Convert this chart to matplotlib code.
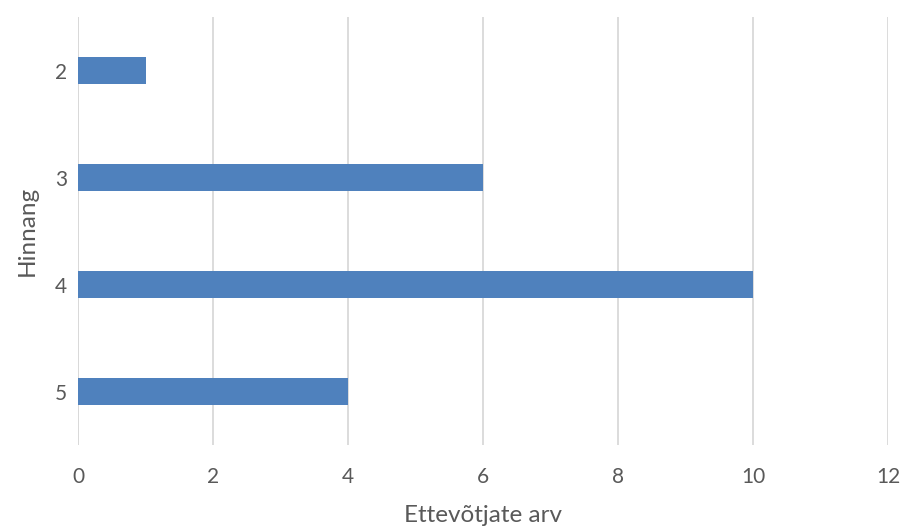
import matplotlib.pyplot as plt
import numpy as np

plt.rcParams['font.family'] = ['Lato', 'DejaVu Sans']

# Data
ratings = ['2', '3', '4', '5']
counts = [1, 6, 10, 4]

BAR_BLUE = '#4F81BD'
GRID_GREY = '#D9D9D9'
TEXT_GREY = '#595959'

fig = plt.figure(figsize=(9.02, 5.27), dpi=100)
ax = fig.add_axes([0.0865, 0.1556, 0.898, 0.8121])

y = np.arange(len(ratings))
ax.barh(y, counts, height=0.245, color=BAR_BLUE, zorder=3)

ax.set_xlim(0, 12)
ax.set_xticks(np.arange(0, 13, 2))
ax.set_ylim(len(ratings) - 0.5, -0.5)
ax.set_yticks(y)
ax.set_yticklabels(ratings)

ax.grid(axis='x', color=GRID_GREY, linewidth=1.3, zorder=0)
for s in ax.spines.values():
    s.set_visible(False)
ax.axvline(0, color=GRID_GREY, linewidth=1.3, zorder=1)

ax.tick_params(axis='both', length=0, labelsize=15, colors=TEXT_GREY)
ax.tick_params(axis='x', pad=16)
ax.tick_params(axis='y', pad=8)

ax.set_xlabel('Ettevõtjate arv', fontsize=17.5, color=TEXT_GREY, labelpad=13)
ax.set_ylabel('Hinnang', fontsize=17.5, color=TEXT_GREY, labelpad=12)

fig.savefig('out.png', dpi=100)
